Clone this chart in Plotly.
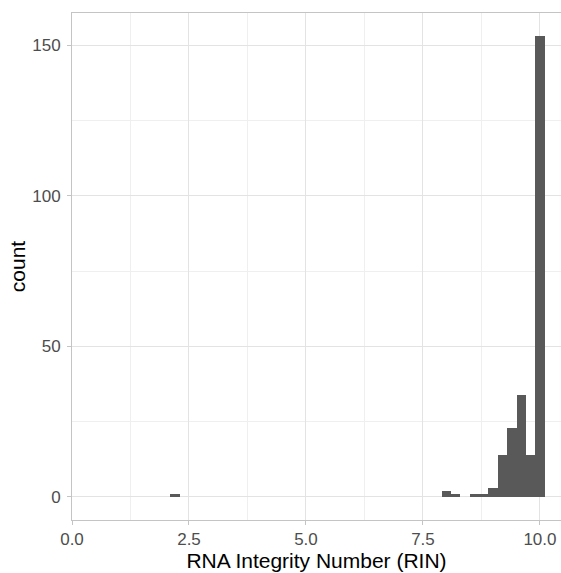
import plotly.graph_objects as go

# Histogram bins (centers, binwidth 0.2) and counts
bin_centers = [2.2, 8.0, 8.2, 8.4, 8.6, 8.8, 9.0, 9.2, 9.4, 9.6, 9.8, 10.0]
counts = [1, 2, 1, 0, 1, 1, 3, 14, 23, 34, 14, 153]
bin_width = 0.2

x_ticks = [0, 2.5, 5, 7.5, 10]
x_tick_labels = ["0.0", "2.5", "5.0", "7.5", "10.0"]
y_ticks = [0, 50, 100, 150]
y_tick_labels = ["0", "50", "100", "150"]

FONT = "Liberation Sans, Arial, Helvetica, sans-serif"
GRID = "#E3E3E3"
MINOR = "#EFEFEF"
BORDER = "#C4C4C4"

fig = go.Figure(
    go.Bar(
        x=bin_centers,
        y=counts,
        width=[bin_width] * len(bin_centers),
        marker=dict(color="#595959", line=dict(width=0)),
        hoverinfo="x+y",
    )
)

ymax = max(counts)
pad = 0.05 * ymax

fig.update_layout(
    width=561,
    height=573,
    margin=dict(l=72, r=0, t=13, b=53),
    paper_bgcolor="white",
    plot_bgcolor="white",
    bargap=0,
    showlegend=False,
    font=dict(family=FONT, color="#4D4D4D", size=17),
    xaxis=dict(
        range=[0, 10.45],
        tickvals=x_ticks,
        ticktext=x_tick_labels,
        ticks="outside",
        ticklen=4,
        tickcolor=BORDER,
        tickfont=dict(size=17, color="#4D4D4D"),
        showgrid=True,
        gridcolor=GRID,
        gridwidth=1,
        minor=dict(tickvals=[1.25, 3.75, 6.25, 8.75], showgrid=True,
                   gridcolor=MINOR, gridwidth=1, ticks=""),
        zeroline=False,
        showline=True,
        linecolor=BORDER,
        linewidth=1,
        mirror=True,
        title=dict(text="RNA Integrity Number (RIN)",
                   font=dict(size=21, color="black"), standoff=2),
        automargin=False,
    ),
    yaxis=dict(
        range=[-pad, ymax + pad],
        tickvals=y_ticks,
        ticktext=y_tick_labels,
        ticks="outside",
        ticklen=4,
        ticklabelstandoff=3,
        tickcolor=BORDER,
        tickfont=dict(size=17, color="#4D4D4D"),
        showgrid=True,
        gridcolor=GRID,
        gridwidth=1,
        minor=dict(tickvals=[25, 75, 125], showgrid=True,
                   gridcolor=MINOR, gridwidth=1, ticks=""),
        zeroline=False,
        showline=True,
        linecolor=BORDER,
        linewidth=1,
        mirror=False,
        title=dict(text="count", font=dict(size=21, color="black"), standoff=0),
        automargin=False,
    ),
)

fig.write_html("out.html")
